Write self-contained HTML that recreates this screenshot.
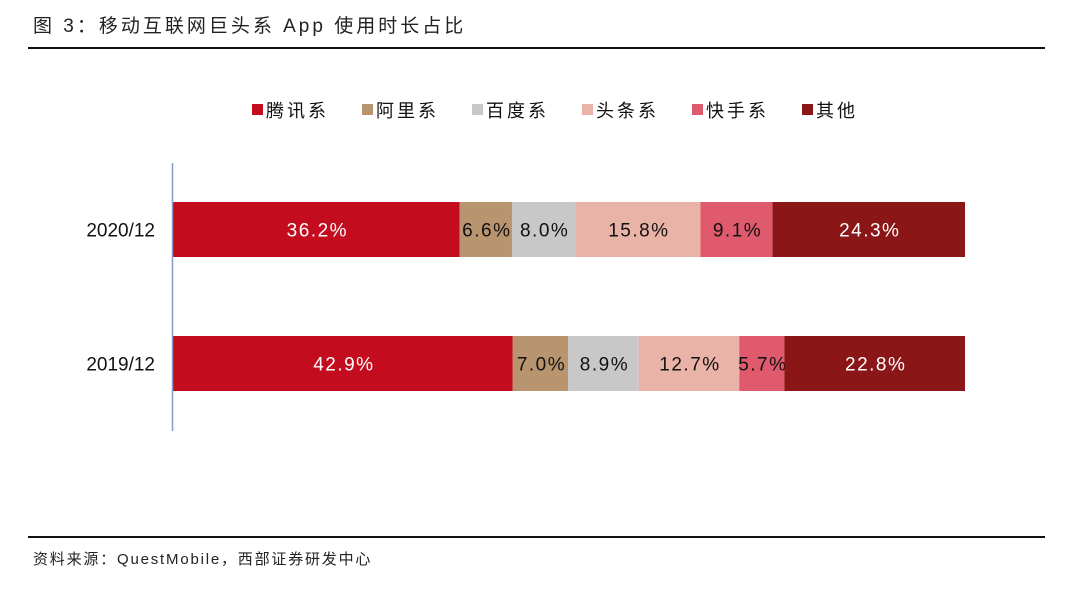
<!DOCTYPE html>
<html><head><meta charset="utf-8"><style>
body{margin:0;width:1080px;height:588px;background:#fff;overflow:hidden;font-family:"Liberation Sans","Noto Sans CJK SC",sans-serif}
</style></head><body>
<svg width="1080" height="588" xmlns="http://www.w3.org/2000/svg">
<text x="33" y="32" font-size="19" fill="#222" letter-spacing="3" font-family="'Liberation Sans','Noto Sans CJK SC',sans-serif">图 3：移动互联网巨头系 App 使用时长占比</text>
<rect x="28" y="47" width="1017" height="2" fill="#111"/>
<rect x="28" y="536" width="1017" height="2" fill="#111"/>
<text x="33" y="564" font-size="15" fill="#222" letter-spacing="1.8">资料来源：QuestMobile，西部证券研发中心</text>
<g id="legend"></g>
<g id="bars"></g>
<line x1="172.5" y1="163" x2="172.5" y2="431" stroke="#8a9ac8" stroke-width="1.5"/>
</svg>
<script>
const categories=["2020/12","2019/12"];
const seriesNames=["腾讯系","阿里系","百度系","头条系","快手系","其他"];
const tencent=[36.2,42.9];
const ali=[6.6,7.0];
const baidu=[8.0,8.9];
const toutiao=[15.8,12.7];
const kuaishou=[9.1,5.7];
const other=[24.3,22.8];
const series=[tencent,ali,baidu,toutiao,kuaishou,other];
const colors=["#c30d1f","#b9956f","#c8c8c8","#eab3a7","#de5a6c","#8b1618"];
const textColors=["#fff","#111","#111","#111","#111","#fff"];
const NS="http://www.w3.org/2000/svg";
const x0=173,plotW=792;
const xs=v=>v/100*plotW;
const bandY=i=>202+i*134;
const barH=55;
const bars=document.getElementById('bars');
categories.forEach((c,i)=>{
  const y=bandY(i);
  const t=document.createElementNS(NS,'text');
  t.setAttribute('x',155);t.setAttribute('y',y+barH/2+7);t.setAttribute('text-anchor','end');
  t.setAttribute('font-size','19');t.setAttribute('fill','#111');t.textContent=c;
  
  
  bars.appendChild(t);
  let acc=0;
  series.forEach((s,k)=>{
    const v=s[i];
    const r=document.createElementNS(NS,'rect');
    r.setAttribute('x',x0+xs(acc));r.setAttribute('y',y);r.setAttribute('width',xs(v));r.setAttribute('height',barH);
    r.setAttribute('fill',colors[k]);
    
    
    bars.appendChild(r);
    const l=document.createElementNS(NS,'text');
    l.setAttribute('x',x0+xs(acc+v/2)+1);l.setAttribute('y',y+barH/2+7);l.setAttribute('text-anchor','middle');
    l.setAttribute('font-size','19');l.setAttribute('fill',textColors[k]);
    l.setAttribute('letter-spacing','1.5');
    l.textContent=v.toFixed(1)+'%';
    
    
    bars.appendChild(l);
    acc+=v;
  });
});
const lg=document.getElementById('legend');
const lx=[252,362,472,582,692,802];
seriesNames.forEach((n,k)=>{
  const r=document.createElementNS(NS,'rect');
  r.setAttribute('x',lx[k]);r.setAttribute('y',104);r.setAttribute('width',11);r.setAttribute('height',11);r.setAttribute('fill',colors[k]);
  
  
  lg.appendChild(r);
  const t=document.createElementNS(NS,'text');
  t.setAttribute('x',lx[k]+14);t.setAttribute('y',117);t.setAttribute('font-size','18');t.setAttribute('fill','#111');
  t.setAttribute('letter-spacing','3');
  t.textContent=n;
  
  
  lg.appendChild(t);
});
</script>
</body></html>
